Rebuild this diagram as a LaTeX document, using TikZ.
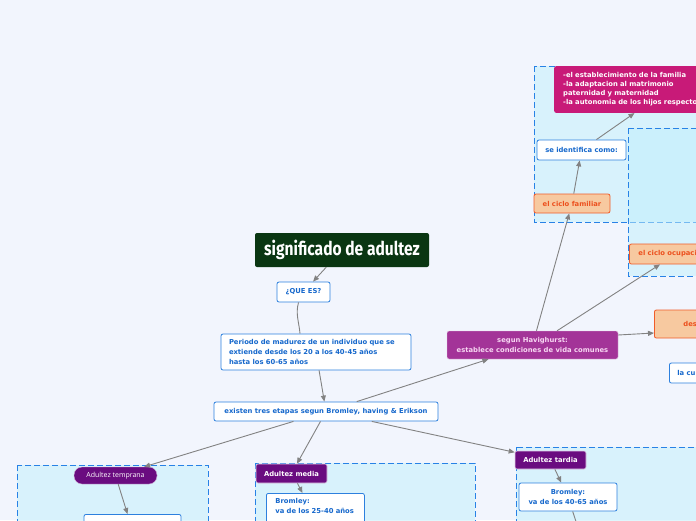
\documentclass[tikz,border=0pt]{standalone}
\usepackage{fontspec}
\setmainfont{DejaVu Sans}
\newfontfamily\titlefont[FakeStretch=0.82]{Fira Sans}
\newfontfamily\thinfont{Open Sans}
\usepackage{tikz}
\usetikzlibrary{arrows.meta}

\definecolor{bgcol}{RGB}{242,245,253}
\definecolor{nodeblue}{RGB}{45,128,222}
\definecolor{txtblue}{RGB}{22,104,204}
\definecolor{orafill}{RGB}{247,201,160}
\definecolor{oradraw}{RGB}{240,92,42}
\definecolor{oratext}{RGB}{236,80,30}
\definecolor{purpdark}{RGB}{106,12,128}
\definecolor{havpurp}{RGB}{163,52,152}
\definecolor{havtext}{RGB}{247,214,242}
\definecolor{magbox}{RGB}{200,26,120}
\definecolor{titlegreen}{RGB}{10,54,18}
\definecolor{conngray}{RGB}{130,130,130}
\definecolor{framefill}{RGB}{192,240,252}
\definecolor{frameblue}{RGB}{40,130,230}

\begin{document}
\begin{tikzpicture}[x=1pt, y=-1pt,
    txt/.style  ={font=\bfseries\fontsize{6.8}{10}\selectfont},
    box/.style  ={txt, draw=nodeblue, fill=white, text=txtblue, line width=0.8pt,
                  rounded corners=2pt, inner sep=0pt},
    ora/.style  ={txt, draw=oradraw, fill=orafill, text=oratext, line width=0.8pt,
                  rounded corners=2pt, inner sep=0pt},
    purp/.style ={txt, fill=purpdark, draw=white!80!purpdark, text=white, line width=0.6pt,
                  rounded corners=2pt, inner sep=0pt},
    frame/.style={draw=frameblue, fill=framefill, fill opacity=0.5, line width=0.8pt,
                  dash pattern=on 6pt off 3pt},
    conn/.style ={draw=conngray, line width=0.9pt, -{Triangle[length=6pt,width=5pt]}},
    link/.style ={draw=conngray, line width=0.9pt}
  ]

  %% ---- canvas ------------------------------------------------------
  \useasboundingbox (0,0) rectangle (696,520);
  \clip (0,0) rectangle (696,520);
  \fill[bgcol] (0,0) rectangle (696,520);

  %% ---- dashed groups -----------------------------------------------
  \draw[frame] (534,66)  rectangle (780,222);
  \draw[frame] (628,128) rectangle (780,276);
  \draw[frame] (17,465)  rectangle (208,560);
  \draw[frame] (255,463) rectangle (475,560);
  \draw[frame] (516,447) rectangle (780,560);

  %% ---- top of the map ----------------------------------------------
  \node[fill=titlegreen, text=white, rounded corners=2pt, minimum width=174, minimum height=34,
        font=\titlefont\bfseries\fontsize{19}{20}\selectfont] (title) at (342,250) {significado de adultez};
  \node[box, minimum width=53, minimum height=20] (quees) at (303.5,292) {¿QUE ES?};
  \node[box, minimum width=190, minimum height=36, text width=174, align=left] (periodo) at (316,352)
    {Periodo de madurez de un individuo que se\\extiende desde los 20 a los 40-45 años\\hasta los 60-65 años};
  \node[box, minimum width=224, minimum height=19] (existen) at (326,411.5)
    {existen tres etapas segun Bromley, having \& Erikson};

  %% ---- Havighurst branch -------------------------------------------
  \node[txt, fill=havpurp, draw=white!75!havpurp, text=havtext, rounded corners=2pt,
        minimum width=171, minimum height=28, align=center, inner sep=0pt] (havig) at (532.5,345)
    {segun Havighurst:\\establece condiciones de vida comunes};
  \node[ora, minimum width=76, minimum height=19] (familiar) at (572,203.5) {el ciclo familiar};
  \node[box, minimum width=89, minimum height=20] (identifica) at (581.5,150) {se identifica como:};
  \node[txt, fill=magbox, text=white, rounded corners=2pt, anchor=north west, minimum height=44,
        text width=210, align=left, inner xsep=9pt, inner ysep=6.5pt,
        font=\bfseries\fontsize{6.8}{9}\selectfont] (tareas) at (554,66)
    {-el establecimiento de la familia\\-la adaptacion al matrimonio\\paternidad y maternidad\\-la autonomia de los hijos respecto};
  \node[ora, anchor=west, minimum height=20, inner xsep=9pt] (ocupacional) at (629,254) {el ciclo ocupacional};
  \node[ora, anchor=west, minimum height=28, inner xsep=29pt] (des) at (654,324) {des};
  \node[box, anchor=west, minimum height=20, inner xsep=8pt] (lacu) at (669,373) {la cu};

  %% ---- three stages ------------------------------------------------
  \node[fill=purpdark, draw=white!70!purpdark, text=white, rounded corners=8pt, minimum width=83,
        minimum height=17, inner sep=0pt, font=\thinfont\fontsize{7}{8}\selectfont] (temprana) at (115.5,475.5)
    {Adultez temprana};
  \node[box, anchor=north, minimum width=97, minimum height=30] (tempbox) at (132.5,514) {};
  \node[purp, minimum width=71, minimum height=19] (media) at (291.5,473.5) {Adultez media};
  \node[box, anchor=north west, text width=80, align=left, inner xsep=9pt, inner ysep=5pt] (brommedia) at (266,493)
    {Bromley:\\va de los 25-40 años\\ \strut};
  \node[purp, minimum width=71, minimum height=18] (tardia) at (550.5,460) {Adultez tardia};
  \node[box, minimum width=98, minimum height=28, align=center] (bromtardia) at (568,497)
    {Bromley:\\va de los 40-65 años};
  \coordinate (abajo) at (582,540);

  %% ---- connectors --------------------------------------------------
  \draw[conn] (title) -- (quees);
  \draw[link] ([xshift=-5pt]quees.south) to[out=-105,in=95] ([xshift=-16pt]periodo.north);
  \draw[conn] (periodo) -- (existen);
  \draw[conn] (existen) -- (havig);
  \draw[conn] (havig) -- (familiar);
  \draw[conn] ([xshift=24.5pt]havig.north) -- ([xshift=31pt]ocupacional.south west);
  \draw[conn] ([yshift=10pt]havig.east) -- ([yshift=-9pt]des.west);
  \draw[conn] (familiar) -- (identifica);
  \draw[conn] (identifica) -- (tareas);
  \draw[conn] (existen) -- (temprana);
  \draw[conn] (existen) -- (media);
  \draw[conn] (existen) -- (tardia);
  \draw[conn] (temprana) -- ([xshift=-5pt]tempbox.north);
  \draw[conn] ([xshift=6pt]media.south) -- ([xshift=-13pt]brommedia.north);
  \draw[conn] (tardia) -- (bromtardia);
  \draw[link] (bromtardia) -- (abajo);

\end{tikzpicture}
\end{document}
